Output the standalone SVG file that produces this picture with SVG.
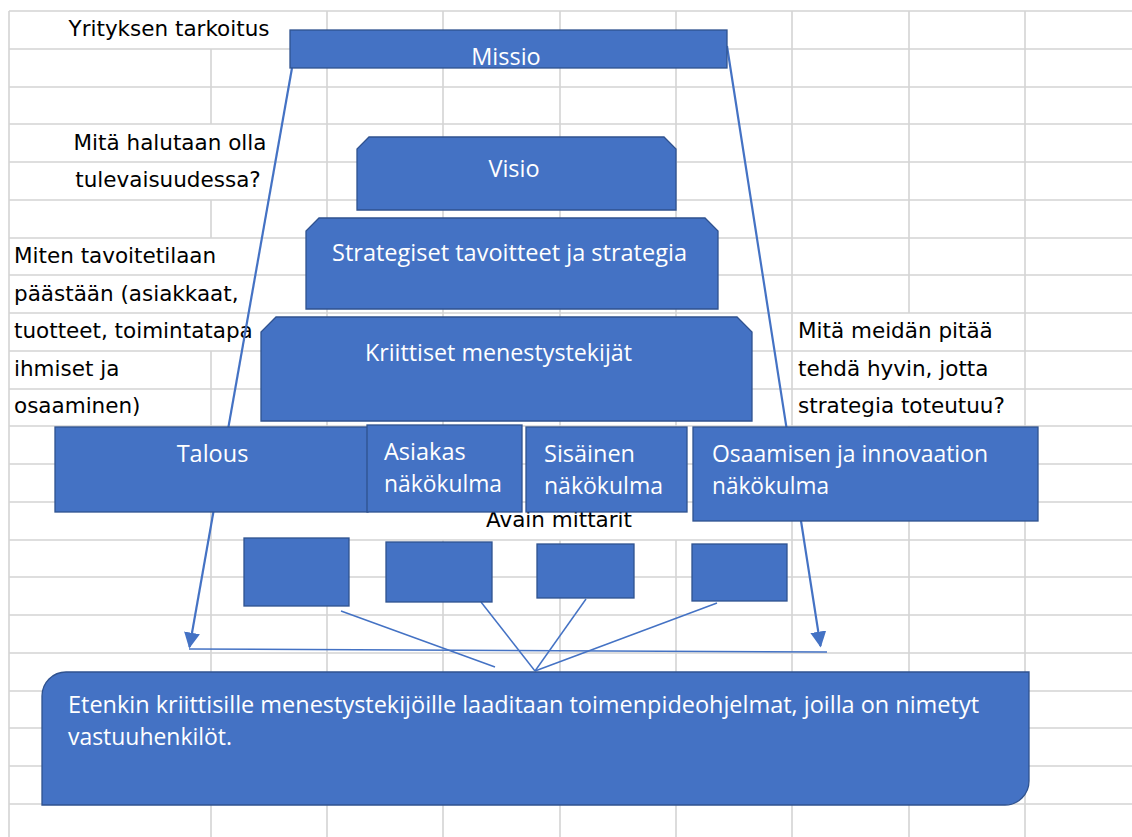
<svg xmlns="http://www.w3.org/2000/svg" width="1132" height="837" viewBox="0 0 1132 837">
<defs>
<style>
.grid{stroke:#D4D4D4;stroke-width:1.6;fill:none}
.node{fill:#4472C4;stroke:#2F528F;stroke-width:1.3}
.wt{font-family:"Open Sans","Noto Sans",sans-serif;font-size:23.5px;fill:#FFFFFF}
.bt{font-family:"DejaVu Sans","Liberation Sans",sans-serif;font-size:21.5px;fill:#000000}
.conn{stroke:#4472C4;fill:none}
.thick{stroke-width:2.2}
.thin{stroke-width:1.5}
</style>
<marker id="arrow" viewBox="0 0 10 10" refX="9" refY="5" markerWidth="16" markerHeight="16" markerUnits="userSpaceOnUse" orient="auto">
<path d="M0,0 L10,5 L0,10 Z" fill="#4472C4"/>
</marker>
</defs>
<rect x="0" y="0" width="1132" height="837" fill="#FFFFFF"/>
<g id="grid">
<path class="grid" d="M9,11H1132 M9,49H1132 M9,87H1132 M9,124H1132 M9,162H1132 M9,200H1132 M9,238H1132 M9,275H1132 M9,313H1132 M9,351H1132 M9,389H1132 M9,426H1132 M9,464H1132 M9,502H1132 M9,540H1132 M9,577H1132 M9,615H1132 M9,653H1132 M9,691H1132 M9,728H1132 M9,766H1132 M9,804H1132"/>
<path class="grid" d="M9,11V837 M211,49V124 M211,200V238 M211,351V837 M327,11V502 M327,540V837 M443,11V502 M443,540V837 M560,11V502 M560,540V837 M676,11V502 M676,540V837 M792,11V837 M909,11V313 M909,426V837 M1025,11V837"/>
</g>
<g id="labels">
<text class="bt" x="169" y="36" text-anchor="middle">Yrityksen tarkoitus</text>
<text class="bt" x="170" y="150" text-anchor="middle">Mitä halutaan olla</text>
<text class="bt" x="168" y="187" text-anchor="middle">tulevaisuudessa?</text>
<text class="bt" x="14" y="263">Miten tavoitetilaan</text>
<text class="bt" x="14" y="301">päästään (asiakkaat,</text>
<text class="bt" x="14" y="338">tuotteet, toimintatapa</text>
<text class="bt" x="14" y="376">ihmiset ja</text>
<text class="bt" x="14" y="413">osaaminen)</text>
<text class="bt" x="798" y="338">Mitä meidän pitää</text>
<text class="bt" x="798" y="376">tehdä hyvin, jotta</text>
<text class="bt" x="798" y="413">strategia toteutuu?</text>
<text class="bt" x="559" y="527" text-anchor="middle">Avain mittarit</text>
</g>
<g id="connectors">
<path class="conn thick" d="M292,68 L189.5,647" marker-end="url(#arrow)"/>
<path class="conn thick" d="M727,46 L820.5,646" marker-end="url(#arrow)"/>
<path class="conn thin" d="M189,649 L827,652"/>
<path class="conn thin" d="M341,611 L495,667"/>
<path class="conn thin" d="M481,602 L535,671"/>
<path class="conn thin" d="M586,599 L535,671"/>
<path class="conn thin" d="M717,603 L535,671"/>
</g>
<g id="missio">
<rect class="node" x="290" y="30" width="437" height="38"/>
<text class="wt" x="506" y="65" text-anchor="middle">Missio</text>
</g>
<g id="visio">
<path class="node" d="M369,137 L664,137 L676,149 L676,210 L357,210 L357,149 Z"/>
<text class="wt" x="514" y="177" text-anchor="middle">Visio</text>
</g>
<g id="strategiset">
<path class="node" d="M319,218 L705,218 L718,231 L718,309 L306,309 L306,231 Z"/>
<text class="wt" x="509.5" y="261" text-anchor="middle" textLength="355" lengthAdjust="spacingAndGlyphs">Strategiset tavoitteet ja strategia</text>
</g>
<g id="kriittiset">
<path class="node" d="M276,317 L737,317 L752,332 L752,421 L261,421 L261,332 Z"/>
<text class="wt" x="498.5" y="361" text-anchor="middle" textLength="267" lengthAdjust="spacingAndGlyphs">Kriittiset menestystekijät</text>
</g>
<g id="talous">
<rect class="node" x="55" y="427" width="313" height="85"/>
<text class="wt" x="212.5" y="462" text-anchor="middle">Talous</text>
</g>
<g id="asiakas">
<rect class="node" x="367" y="425" width="155" height="87"/>
<text class="wt" x="384" y="460">Asiakas</text>
<text class="wt" x="384" y="492" textLength="118" lengthAdjust="spacingAndGlyphs">näkökulma</text>
</g>
<g id="sisainen">
<rect class="node" x="526" y="427" width="161" height="85"/>
<text class="wt" x="544" y="462">Sisäinen</text>
<text class="wt" x="544" y="494" textLength="119" lengthAdjust="spacingAndGlyphs">näkökulma</text>
</g>
<g id="osaamisen">
<rect class="node" x="693" y="427" width="345" height="94"/>
<text class="wt" x="712" y="462" textLength="276" lengthAdjust="spacingAndGlyphs">Osaamisen ja innovaation</text>
<text class="wt" x="712" y="494" textLength="117" lengthAdjust="spacingAndGlyphs">näkökulma</text>
</g>
<g id="mittari1"><rect class="node" x="244" y="538" width="105" height="68"/></g>
<g id="mittari2"><rect class="node" x="386" y="542" width="106" height="60"/></g>
<g id="mittari3"><rect class="node" x="537" y="544" width="97" height="54"/></g>
<g id="mittari4"><rect class="node" x="692" y="544" width="95" height="57"/></g>
<g id="toimenpiteet">
<path class="node" d="M66,672 L1029,672 L1029,781 A24,24 0 0 1 1005,805 L42,805 L42,696 A24,24 0 0 1 66,672 Z"/>
<text class="wt" x="68" y="713" textLength="911" lengthAdjust="spacingAndGlyphs">Etenkin kriittisille menestystekijöille laaditaan toimenpideohjelmat, joilla on nimetyt</text>
<text class="wt" x="68" y="745" textLength="164" lengthAdjust="spacingAndGlyphs">vastuuhenkilöt.</text>
</g>
</svg>
